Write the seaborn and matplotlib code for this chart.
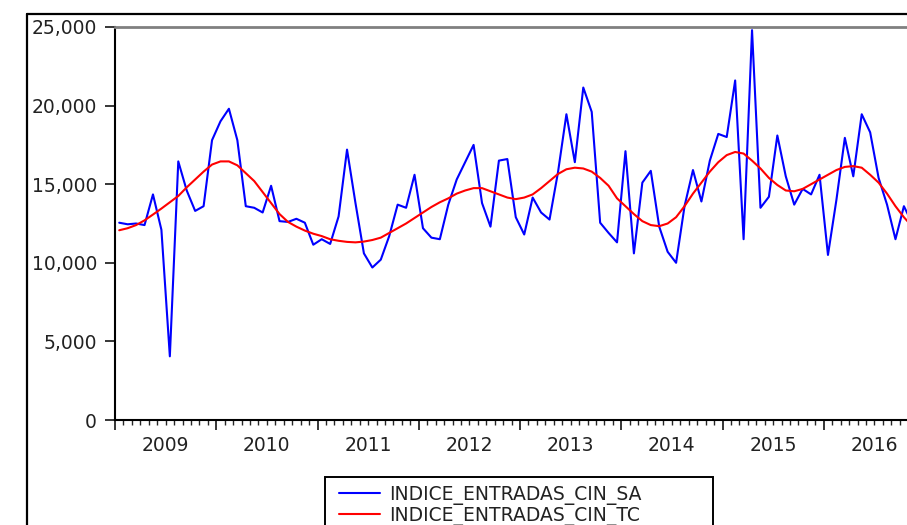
import numpy as np
import pandas as pd
import seaborn as sns
import matplotlib.pyplot as plt
from matplotlib.lines import Line2D
from matplotlib.patches import Rectangle
from matplotlib.ticker import FixedLocator, FuncFormatter, NullFormatter

# monthly series, starting 2009M01
start_year = 2009
sa_values = [
    12550, 12450, 12500, 12400, 14350, 12100, 4050, 16450, 14600, 13300, 13600, 17800,
    19000, 19800, 17800, 13600, 13500, 13200, 14900, 12650, 12600, 12800, 12550, 11150,
    11500, 11200, 12950, 17200, 13800, 10600, 9700, 10200, 11700, 13700, 13500, 15600,
    12200, 11600, 11500, 13700, 15300, 16400, 17500, 13800, 12300, 16500, 16600, 12900,
    11800, 14150, 13200, 12750, 15750, 19450, 16400, 21150, 19600, 12550, 11900, 11300,
    17100, 10600, 15100, 15850, 12300, 10700, 10000, 13600, 15900, 13900, 16500, 18200,
    18000, 21600, 11500, 24800, 13500, 14200, 18100, 15500, 13700, 14700, 14350, 15600,
    10500, 14000, 17950, 15500, 19450, 18300, 15400, 13700, 11500, 13600, 12500,
]
tc_values = [
    12070, 12200, 12400, 12700, 13070, 13450, 13850, 14250, 14800, 15300, 15800, 16250,
    16450, 16450, 16200, 15700, 15200, 14500, 13800, 13100, 12600, 12300, 12050, 11850,
    11700, 11500, 11400, 11330, 11300, 11350, 11450, 11600, 11900, 12200, 12500, 12850,
    13200, 13550, 13850, 14100, 14400, 14600, 14750, 14750, 14550, 14350, 14150, 14050,
    14150, 14350, 14750, 15200, 15650, 15950, 16050, 16000, 15800, 15400, 14900, 14100,
    13600, 13100, 12650, 12400, 12330, 12500, 12900, 13600, 14400, 15100, 15800, 16400,
    16850, 17050, 16950, 16500, 16000, 15400, 14950, 14600, 14550, 14700, 15000, 15300,
    15600, 15900, 16100, 16150, 16050, 15600, 15100, 14400, 13600, 12900, 12300,
]
y_ticks = [0, 5000, 10000, 15000, 20000, 25000]
sa_name = 'INDICE_ENTRADAS_CIN_SA'
tc_name = 'INDICE_ENTRADAS_CIN_TC'

months = np.arange(len(sa_values))
df = pd.DataFrame({
    't': start_year + (months + 0.5) / 12.0,
    sa_name: sa_values,
    tc_name: tc_values,
})

sns.set_style('white')
plt.rcParams['font.family'] = ['DejaVu Sans']

W, H = 907, 525
fig = plt.figure(figsize=(W / 100, H / 100), dpi=100)
ax = fig.add_axes([115 / W, 1 - 420 / H, 810 / W, 393 / H])

sns.lineplot(data=df, x='t', y=sa_name, color='#0000ff', lw=1.5, ax=ax, label=sa_name)
sns.lineplot(data=df, x='t', y=tc_name, color='#ff0000', lw=1.5, ax=ax, label=tc_name)

ax.set_xlim(2009, 2017)
ax.set_ylim(0, 25000)
ax.set_xlabel('')
ax.set_ylabel('')

# y axis
ax.set_yticks(y_ticks)
ax.set_yticklabels([f'{v:,}' for v in y_ticks])
ax.tick_params(axis='y', direction='out', length=7, width=1.3, pad=6,
               labelsize=13.5, labelcolor='#222222', left=True)

# x axis: year boundaries as major ticks, months as minor, labels mid-year
ax.xaxis.set_major_locator(FixedLocator(range(2009, 2018)))
ax.xaxis.set_major_formatter(NullFormatter())
ax.xaxis.set_minor_locator(FixedLocator([2009 + k / 12 for k in range(0, 97)]))


def year_fmt(x, pos):
    frac = x - np.floor(x)
    if abs(frac - 0.5) < 1e-6:
        return str(int(np.floor(x)))
    return ''


ax.xaxis.set_minor_formatter(FuncFormatter(year_fmt))
ax.tick_params(axis='x', which='major', direction='out', length=7, width=1.3, bottom=True)
ax.tick_params(axis='x', which='minor', direction='out', length=3.5, width=1.0, bottom=True,
               pad=8, labelsize=13.5, labelcolor='#222222')

for side in ['left', 'bottom']:
    ax.spines[side].set_color('black')
    ax.spines[side].set_linewidth(1.5)
ax.spines['top'].set_color('#808080')
ax.spines['top'].set_linewidth(2)
ax.spines['right'].set_visible(False)

# outer frame of the graph window
fig.add_artist(Line2D([27 / W, 27 / W], [0, 1 - 14 / H], transform=fig.transFigure,
                      color='black', lw=1.6))
fig.add_artist(Line2D([27 / W, 1], [1 - 14 / H, 1 - 14 / H], transform=fig.transFigure,
                      color='black', lw=1.6))

# legend with its own box
fig.add_artist(Rectangle((325 / W, -0.05), (713 - 325) / W, 1 - 477 / H + 0.05,
                         transform=fig.transFigure, fill=False, edgecolor='black', lw=1.4))
ax.legend(loc='upper left', bbox_to_anchor=(333 / W, 1 - 479 / H),
          bbox_transform=fig.transFigure, frameon=False, fontsize=13.5,
          handlelength=2.2, handletextpad=0.5, labelspacing=0.05, borderaxespad=0,
          borderpad=0.3, labelcolor='#222222')

fig.savefig('out.png', dpi=100)
